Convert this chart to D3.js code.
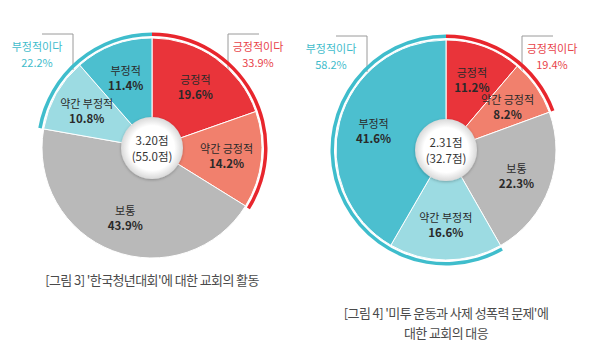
<!DOCTYPE html>
<html>
<head>
<meta charset="utf-8">
<script src="https://cdn.jsdelivr.net/npm/d3@7"></script>
<style>
  body { margin: 0; background: #fff; }
  svg { display: block; font-family: "Noto Sans CJK KR", "Noto Sans", sans-serif; }
</style>
</head>
<body>
<svg id="chart" width="600" height="362"></svg>
<script>
// slice categories, clockwise from 12 o'clock
var categories = ["긍정적", "약간 긍정적", "보통", "약간 부정적", "부정적"];
var colors = ["#e9343a", "#f1806d", "#b9b9b9", "#9cdbe2", "#4cbfcf"];

// figure 3 and figure 4 values (%)
var values3 = [19.6, 14.2, 43.9, 10.8, 11.4];
var values4 = [11.2, 8.2, 22.3, 16.6, 41.6];

// grouped totals: [positive, negative]
var groupLabels = ["긍정적이다", "부정적이다"];
var groups3 = [33.9, 22.2];
var groups4 = [19.4, 58.2];

// centre scores
var scores3 = ["3.20점", "(55.0점)"];
var scores4 = ["2.31점", "(32.7점)"];

var captions3 = ["[그림 3] '한국청년대회'에 대한 교회의 활동"];
var captions4 = ["[그림 4] '미투 운동과 사제 성폭력 문제'에", "대한 교회의 대응"];

var svg = d3.select("#chart");

// soft shading for the centre disc
var defs = svg.append("defs");
var grad = defs.append("radialGradient").attr("id", "disc");
grad.append("stop").attr("offset", "0.72").attr("stop-color", "#fff");
grad.append("stop").attr("offset", "1").attr("stop-color", "#d9d9d9");
defs.append("filter").attr("id", "shadow")
  .attr("x", "-30%").attr("y", "-30%").attr("width", "160%").attr("height", "160%")
  .append("feDropShadow")
  .attr("dx", 0).attr("dy", 1).attr("stdDeviation", 1.5)
  .attr("flood-color", "#000").attr("flood-opacity", 0.25);

drawDonut(152, 148, values3, groups3, scores3, captions3, 285);
drawDonut(446, 150, values4, groups4, scores4, captions4, 318);

function drawDonut(cx, cy, values, groups, scores, captions, captionY) {
  var R = 110;
  var g = svg.append("g").attr("transform", "translate(" + cx + "," + cy + ")");
  var angle = d3.scaleLinear().domain([0, 100]).range([0, 2 * Math.PI]);

  //
  // callout brackets (behind the pie)
  //
  var bracket = [
    { side: 1, color: "#e8434a", label: groupLabels[0], value: groups[0] },
    { side: -1, color: "#3fbccb", label: groupLabels[1], value: groups[1] }
  ];
  bracket.forEach(function (b) {
    var x0 = b.side > 0 ? 76 : -79;
    var x1 = b.side > 0 ? 107 : -110;
    g.append("path")
      .attr("d", "M" + x1 + "," + (-114) + "H" + x0 + "V" + (-78))
      .attr("fill", "none")
      .attr("stroke", "#9a9a9a")
      .attr("stroke-width", 1);
    var tx = b.side > 0 ? 106 : -115;
    g.append("text")
      .attr("x", tx).attr("y", -97)
      .attr("text-anchor", "middle")
      .attr("font-size", 11)
      .attr("fill", b.color)
      .text(b.label);
    g.append("text")
      .attr("x", tx).attr("y", -81)
      .attr("text-anchor", "middle")
      .attr("font-size", 11)
      .attr("fill", b.color)
      .text(b.value.toFixed(1) + "%");
  });

  //
  // pie slices
  //
  var pie = d3.pie().sort(null).value(function (d) { return d; });
  var arc = d3.arc().innerRadius(0).outerRadius(R);
  var labelArc = d3.arc().innerRadius(75).outerRadius(75);
  var arcs = pie(values);

  g.selectAll(".slice")
    .data(arcs)
    .enter().append("path")
    .attr("class", "slice")
    .attr("d", arc)
    .attr("fill", function (d, i) { return colors[i]; })
    .attr("stroke", "#fff")
    .attr("stroke-width", 1);

  //
  // outer group rings
  //
  var ring = d3.arc().innerRadius(R + 2).outerRadius(R + 5.5);
  g.append("path")
    .attr("d", ring({ startAngle: 0, endAngle: angle(groups[0]) }))
    .attr("fill", "#e8262d");
  g.append("path")
    .attr("d", ring({ startAngle: angle(100 - groups[1]), endAngle: angle(100) }))
    .attr("fill", "#3fbdcc");

  // slice labels
  var lab = g.selectAll(".label")
    .data(arcs)
    .enter().append("g")
    .attr("class", "label")
    .attr("transform", function (d) { return "translate(" + labelArc.centroid(d) + ")"; });
  lab.append("text")
    .attr("y", -3)
    .attr("text-anchor", "middle")
    .attr("font-size", 11)
    .attr("fill", "#2a2a2a")
    .text(function (d, i) { return categories[i]; });
  lab.append("text")
    .attr("y", 12)
    .attr("text-anchor", "middle")
    .attr("font-size", 11.5)
    .attr("font-weight", 700)
    .attr("fill", "#2a2a2a")
    .text(function (d) { return d.data.toFixed(1) + "%"; });

  //
  // centre disc + score
  //
  g.append("circle")
    .attr("r", 31)
    .attr("fill", "url(#disc)")
    .attr("filter", "url(#shadow)");
  g.selectAll(".score")
    .data(scores)
    .enter().append("text")
    .attr("class", "score")
    .attr("y", function (d, i) { return -3 + i * 16; })
    .attr("text-anchor", "middle")
    .attr("font-size", 11.5)
    .attr("fill", "#333")
    .text(function (d) { return d; });

  // caption below
  svg.selectAll(null)
    .data(captions)
    .enter().append("text")
    .attr("x", cx)
    .attr("y", function (d, i) { return captionY + i * 20; })
    .attr("text-anchor", "middle")
    .attr("font-size", 13)
    .attr("letter-spacing", -0.6)
    .attr("fill", "#4a4a4a")
    .text(function (d) { return d; });
}
</script>
</body>
</html>
